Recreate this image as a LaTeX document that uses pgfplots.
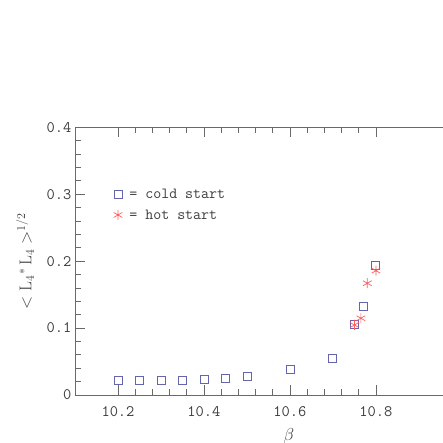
\documentclass[border=0pt]{standalone}
\usepackage{fontspec}
\usepackage{pgfplots}
\pgfplotsset{compat=1.18}
\definecolor{axgray}{RGB}{105,105,105}
\definecolor{txtgray}{RGB}{60,60,60}
\definecolor{sqblue}{RGB}{100,100,175}
\definecolor{astred}{RGB}{255,95,95}
\begin{document}
\begin{tikzpicture}
\useasboundingbox (-75pt,-48pt) rectangle (368pt,395pt);
\begin{axis}[
  at={(0pt,0pt)}, anchor=south west,
  scale only axis, width=368pt, height=267.7pt,
  xmin=10.1, xmax=10.956, ymin=0, ymax=0.4,
  axis x line=box, axis y line=left,
  axis line style={-, draw=axgray, line width=0.8pt},
  xtick={10.2,10.4,10.6,10.8}, minor x tick num=4,
  ytick={0,0.1,0.2,0.3,0.4}, minor y tick num=4,
  xtick pos=both,
  tick align=inside, major tick length=10pt, minor tick length=5.5pt,
  every tick/.style={axgray, line width=0.8pt},
  /pgf/number format/assume math mode=true,
  tick label style={font=\fontsize{16}{19}\selectfont\ttfamily, text=txtgray},
  xticklabel style={yshift=-8pt},
  xlabel={$\beta$},
  xlabel style={at={(axis description cs:0.5813,-0.153)}, anchor=center, font=\fontsize{17}{20}\selectfont, text=txtgray},
  ylabel={$<\mathrm{L}_4{}^{*}\,\mathrm{L}_4>^{1/2}$},
  ylabel style={at={(axis description cs:-0.136,0.5)}, anchor=center, font=\fontsize{17}{20}\selectfont, text=txtgray},
  clip=false,
]
\addplot[only marks, mark=square, mark size=4pt, sqblue, mark options={line width=0.9pt}]
coordinates {(10.2,0.0214)(10.25,0.0214)(10.3,0.0214)(10.35,0.0224)(10.4,0.0235)(10.45,0.025)(10.5,0.0284)(10.6,0.0378)(10.7,0.0553)(10.75,0.1061)(10.77,0.132)(10.8,0.1943)};
\addplot[only marks, mark=asterisk, mark size=5pt, astred, mark options={line width=0.7pt}]
coordinates {(10.75,0.1046)(10.765,0.1147)(10.78,0.167)(10.8,0.1858)};
% legend markers
\addplot[only marks, mark=square, mark size=4pt, sqblue, mark options={line width=0.9pt}]
coordinates {(10.2,0.300)};
\addplot[only marks, mark=asterisk, mark size=5pt, astred, mark options={line width=0.7pt}]
coordinates {(10.2,0.269)};
\node[anchor=west, inner sep=0pt, text=txtgray, font=\fontsize{15.5}{18}\selectfont\ttfamily] at (axis cs:10.226,0.300) {= cold start};
\node[anchor=west, inner sep=0pt, text=txtgray, font=\fontsize{15.5}{18}\selectfont\ttfamily] at (axis cs:10.226,0.269) {= hot start};
\end{axis}
\end{tikzpicture}
\end{document}
